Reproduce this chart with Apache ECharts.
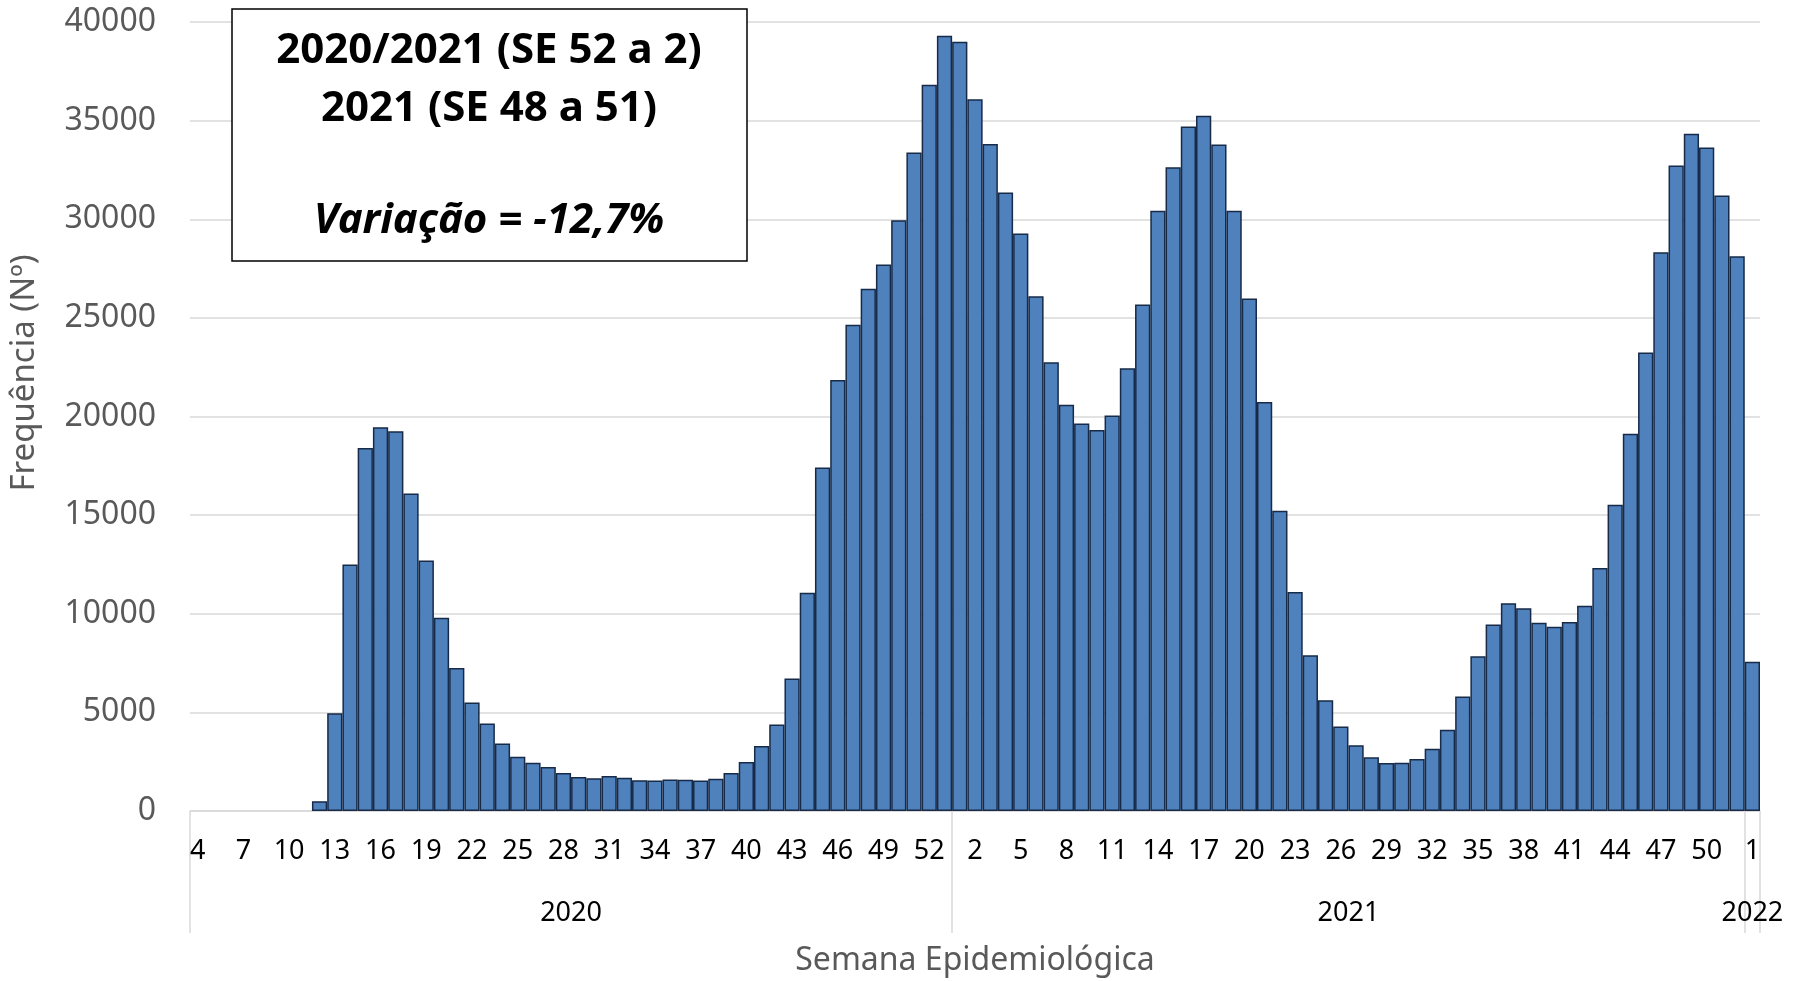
<!DOCTYPE html>
<html>
<head>
<meta charset="utf-8">
<script src="https://cdn.jsdelivr.net/npm/echarts@6/dist/echarts.min.js"></script>
<style>
  html, body { margin: 0; padding: 0; background: #fff; }
  #chart { width: 1798px; height: 981px; }
</style>
</head>
<body>
<div id="chart"></div>
<script>
// semanas epidemiologicas por ano
const years = ['2020', '2021', '2022']
const weeks2020 = [4, 5, 6, 7, 8, 9, 10, 11, 12, 13, 14, 15, 16, 17, 18, 19, 20, 21, 22, 23, 24, 25, 26, 27, 28,
  29, 30, 31, 32, 33, 34, 35, 36, 37, 38, 39, 40, 41, 42, 43, 44, 45, 46, 47, 48, 49, 50, 51, 52, 53]
const weeks2021 = [1, 2, 3, 4, 5, 6, 7, 8, 9, 10, 11, 12, 13, 14, 15, 16, 17, 18, 19, 20, 21, 22, 23, 24, 25, 26,
  27, 28, 29, 30, 31, 32, 33, 34, 35, 36, 37, 38, 39, 40, 41, 42, 43, 44, 45, 46, 47, 48, 49, 50, 51, 52]
const weeks2022 = [1]

const values2020 = [0, 0, 0, 0, 0, 0, 0, 0, 500, 4950, 12500, 18400, 19450, 19250, 16100, 12700, 9800, 7250,
  5500, 4430, 3420, 2750, 2450, 2230, 1930, 1720, 1660, 1780, 1680, 1560, 1550, 1600, 1580, 1550, 1640, 1930,
  2480, 3300, 4380, 6720, 11070, 17420, 21850, 24650, 26480, 27700, 29950, 33380, 36820, 39300]
const values2021 = [39000, 36080, 33820, 31350, 29280, 26100, 22750, 20600, 19650, 19320, 20050, 22450, 25680,
  30430, 32630, 34700, 35250, 33790, 30430, 25980, 20740, 15220, 11100, 7900, 5620, 4280, 3330, 2720, 2430,
  2440, 2630, 3150, 4120, 5800, 7840, 9460, 10530, 10280, 9550, 9340, 9580, 10400, 12320, 15520, 19120, 23240,
  28330, 32720, 34340, 33640, 31200, 28120]
const values2022 = [7570]

const yTicks = [0, 5000, 10000, 15000, 20000, 25000, 30000, 35000, 40000]

const boxLines = ['2020/2021 (SE 52 a 2)', '2021 (SE 48 a 51)', 'Variação = -12,7%']

const categories = [].concat(weeks2020, weeks2021, weeks2022).map(String)
const values = [].concat(values2020, values2021, values2022)
const total = categories.length

// limites e centros dos anos no eixo secundario
const counts = [weeks2020.length, weeks2021.length, weeks2022.length]
const bounds = [0]
counts.forEach(c => bounds.push(bounds[bounds.length - 1] + c))
const centers = counts.map((c, i) => bounds[i] + c / 2)

const chart = echarts.init(document.getElementById('chart'))
const font = 'Noto Sans'

const option = {
  animation: false,
  grid: { left: 190, right: 38, top: 22, bottom: 170, outerBoundsMode: 'none', containLabel: false },
  xAxis: [
    {
      type: 'category',
      data: categories,
      axisLine: { lineStyle: { color: '#d9d9d9', width: 1.5 } },
      axisTick: { show: false },
      axisLabel: { interval: 2, color: '#000', fontSize: 27, fontFamily: font, margin: 27 },
      name: 'Semana Epidemiológica',
      nameLocation: 'middle',
      nameGap: 134,
      nameTextStyle: { color: '#595959', fontSize: 32, fontFamily: font }
    },
    {
      type: 'value',
      min: 0,
      max: total,
      position: 'bottom',
      splitLine: { show: false },
      axisLine: { show: false },
      axisTick: { show: true, customValues: bounds, length: 122, lineStyle: { color: '#d9d9d9', width: 1.5 } },
      axisLabel: {
        customValues: centers,
        formatter: v => years[centers.indexOf(v)] || '',
        color: '#000', fontSize: 27, fontFamily: font, margin: 89
      }
    }
  ],
  yAxis: {
    type: 'value',
    min: yTicks[0],
    max: yTicks[yTicks.length - 1],
    interval: 5000,
    axisLine: { show: false },
    axisTick: { show: false },
    axisLabel: { color: '#595959', fontSize: 32, fontFamily: font, margin: 34, formatter: v => String(v) },
    splitLine: { lineStyle: { color: '#d9d9d9', width: 1.5 } }
  },
  series: [{
    type: 'bar',
    data: values.map(v => (v === 0 ? '-' : v)),
    barCategoryGap: 0,
    itemStyle: { color: '#4f81bd', borderColor: '#172a47', borderWidth: 1.5 }
  }],
  graphic: [
    {
      type: 'text',
      x: 25, y: 373,
      rotation: Math.PI / 2,
      style: { text: 'Frequência (Nº)', fill: '#595959', font: '33px "Noto Sans"', align: 'center', verticalAlign: 'middle' }
    },
    {
      type: 'rect',
      shape: { x: 232, y: 9, width: 515, height: 252 },
      style: { fill: '#fff', stroke: '#000', lineWidth: 1.5 },
      z: 10
    },
    {
      type: 'text', x: 489, y: 51, z: 11,
      style: { text: boxLines[0], fill: '#000', font: 'bold 42px "Noto Sans"', align: 'center', verticalAlign: 'middle' }
    },
    {
      type: 'text', x: 489, y: 109, z: 11,
      style: { text: boxLines[1], fill: '#000', font: 'bold 42px "Noto Sans"', align: 'center', verticalAlign: 'middle' }
    },
    {
      type: 'text', x: 489, y: 221, z: 11,
      style: { text: boxLines[2], fill: '#000', font: 'italic bold 42px "Noto Sans"', align: 'center', verticalAlign: 'middle' }
    }
  ]
}

chart.setOption(option)
</script>
</body>
</html>
